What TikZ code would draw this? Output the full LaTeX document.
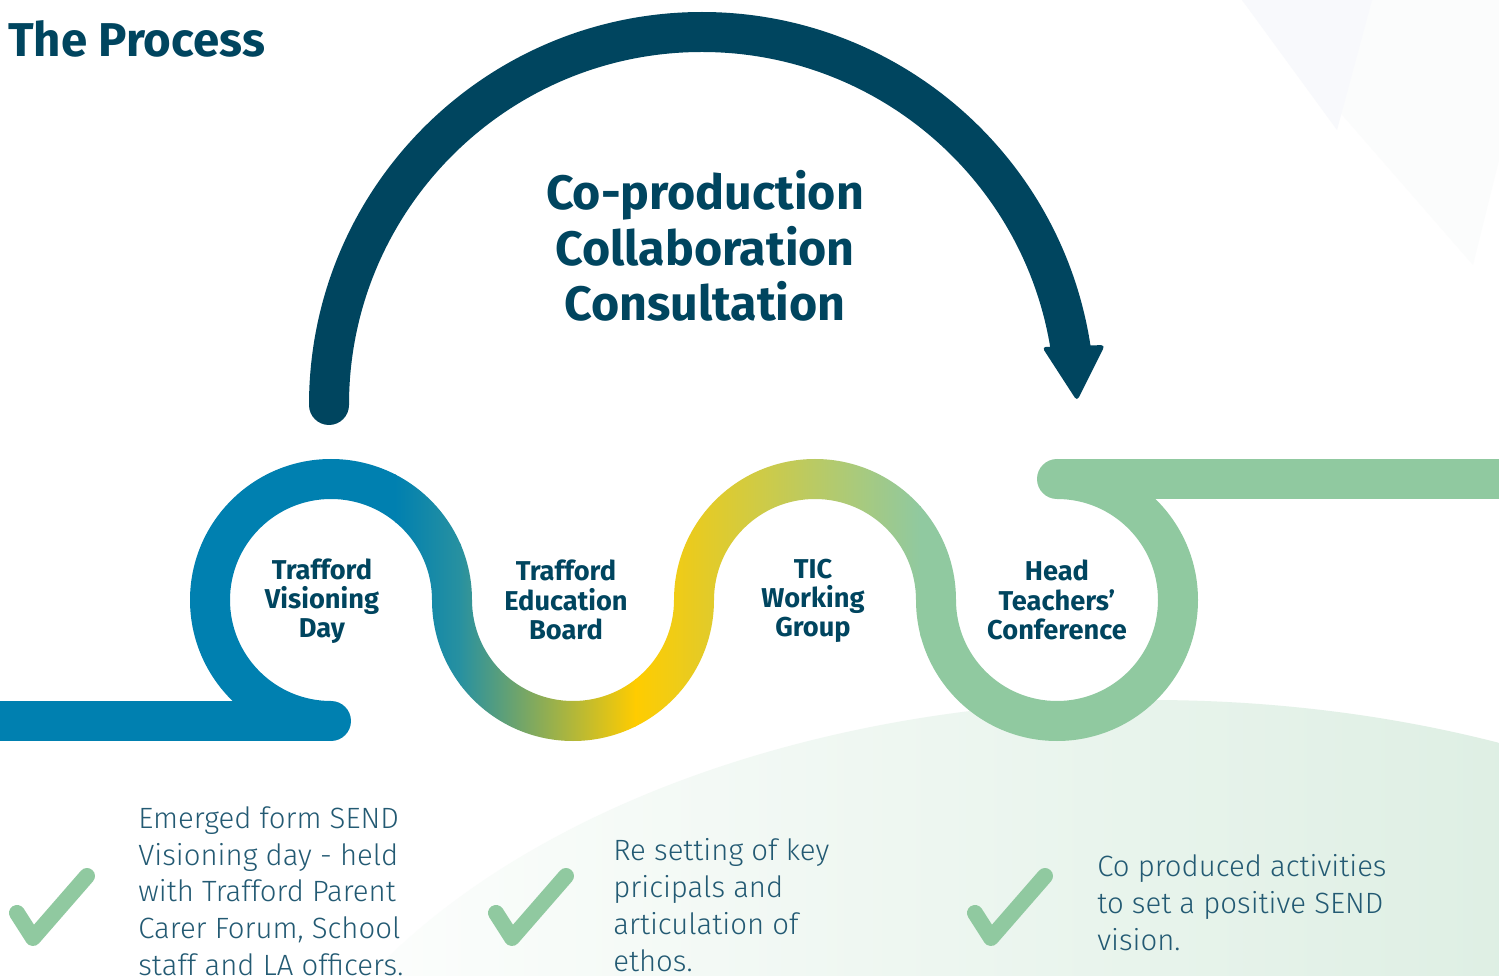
\documentclass[tikz,border=0pt]{standalone}
\usepackage{fontspec}
\setmainfont{Fira Sans}
\newfontfamily\lightfont{Fira Sans Light}
\definecolor{navy}{RGB}{0,69,95}
\definecolor{bodytext}{RGB}{35,90,115}
\definecolor{ringblue}{RGB}{0,128,176}
\definecolor{ringteal}{RGB}{40,145,160}
\definecolor{ringolive}{RGB}{165,165,115}
\definecolor{ringyellow}{RGB}{255,204,0}
\definecolor{ringlime}{RGB}{215,205,95}
\definecolor{ringgreen}{RGB}{144,201,160}
\definecolor{bggreen}{RGB}{208,232,216}
\definecolor{bggrey}{RGB}{251,252,252}
\definecolor{bgblue}{RGB}{248,249,252}
\begin{document}
\begin{tikzpicture}[x=0.02cm,y=-0.02cm,
	bar/.style={line width=0.8cm,line cap=round},
	steplabel/.style={align=center,text=navy,font=\bfseries\fontsize{15.5}{16.6}\selectfont},
	bodyblock/.style={align=left,anchor=north west,inner sep=0pt,text=bodytext,font=\lightfont\fontsize{16.7}{21}\selectfont},
	tick/.style={ringgreen,line width=0.32cm,line cap=round,line join=round}]
	
	\useasboundingbox (0,0) rectangle (1499,976);
	
	\clip (0,0) rectangle (1499,976);
	
	\fill[white] (0,0) rectangle (1499,976);
	
	\fill[bggrey] (1242,0) -- (1499,0) -- (1499,160) -- (1473,265) -- cycle;
	
	\fill[bgblue] (1242,0) -- (1372,0) -- (1337,130) -- cycle;
	
	\shade[left color=white,right color=bggreen] (1150,1250) ellipse [x radius=900,y radius=550];
	
	\node(title)[anchor=base west,inner sep=0pt,text=navy,font=\bfseries\fontsize{27}{30}\selectfont] at (8,57){The Process};
	
	\node(motto)[align=center,text=navy,font=\bfseries\fontsize{27.5}{31.7}\selectfont] at (705,246){Co-production\\Collaboration\\Consultation};
	
	\coordinate (arcstart) at (329,405);
	
	\fill[navy] (arcstart) circle [radius=20];
	
	\draw[navy,line width=0.8cm] (arcstart) arc [start angle=180,end angle=352,radius=373];
	
	\fill[navy,rounded corners=0.08cm] (1042,347) -- (1105,345) -- (1077,401) -- cycle;
	
	\coordinate (barleft) at (-20,721);
	
	\coordinate (barleftend) at (331,721);
	
	\coordinate (barright) at (1057,479);
	
	\coordinate (barrightend) at (1530,479);
	
	\draw[bar,ringblue] (barleft) -- (barleftend);
	
	\draw[bar,ringgreen] (barright) -- (barrightend);
	
	\begin{scope}
	\clip (331,600) ++(90:141) arc [start angle=90,end angle=360,radius=141] -- ++(180:40) arc [start angle=360,end angle=90,radius=101] -- cycle
	(573,600) ++(180:141) arc [start angle=180,end angle=0,radius=141] -- ++(180:40) arc [start angle=0,end angle=180,radius=101] -- cycle
	(815,600) ++(180:141) arc [start angle=180,end angle=360,radius=141] -- ++(180:40) arc [start angle=360,end angle=180,radius=101] -- cycle
	(1057,600) ++(180:141) arc [start angle=180,end angle=-90,radius=141] -- ++(90:40) arc [start angle=-90,end angle=180,radius=101] -- cycle;
	\fill[ringblue] (0,400) rectangle (396,800);
	\shade[left color=ringblue,right color=ringteal] (395,400) rectangle (461,800);
	\shade[left color=ringteal,middle color=ringolive,right color=ringyellow] (460,400) rectangle (636,800);
	\shade[left color=ringyellow,middle color=ringlime,right color=ringgreen] (635,400) rectangle (921,800);
	\fill[ringgreen] (920,400) rectangle (1300,800);
	\end{scope}
	
	\node(visioning)[steplabel] at (322,601){Trafford\\Visioning\\Day};
	
	\node(board)[steplabel] at (566,600){Trafford\\Education\\Board};
	
	\node(tic)[steplabel] at (813,601){TIC\\Working\\Group};
	
	\node(heads)[steplabel] at (1057,600){Head\\Teachers’\\Conference};
	
	\foreach \dx in {0,479,958}
		\draw[tick] (17+\dx,913) -- (33+\dx,938) -- (87+\dx,876);
	
	\node(emerged)[bodyblock] at (138,806){Emerged form SEND\\Visioning day - held\\with Trafford Parent\\Carer Forum, School\\staff and LA officers.};
	
	\node(resetting)[bodyblock] at (613,838){Re setting of key\\pricipals and\\articulation of\\ethos.};
	
	\node(coproduced)[bodyblock] at (1097,854){Co produced activities\\to set a positive SEND\\vision.};
	
\end{tikzpicture}
\end{document}
